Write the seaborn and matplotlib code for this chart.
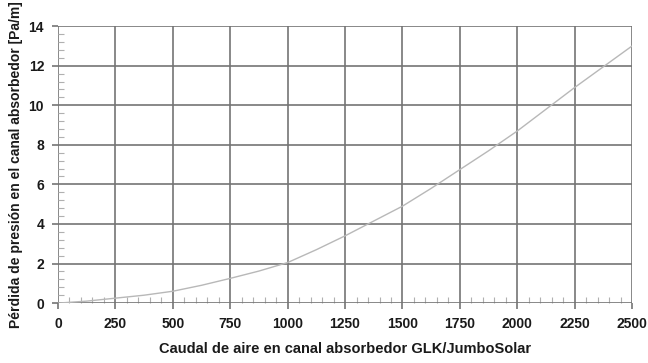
import matplotlib
matplotlib.use("Agg")
import matplotlib.pyplot as plt
from matplotlib.ticker import MultipleLocator
import seaborn as sns
import pandas as pd

# caudal de aire (m3/h) y pérdida de presión (Pa/m)
caudal = [0, 125, 250, 375, 500, 625, 750, 875, 1000, 1125, 1250, 1375, 1500,
          1625, 1750, 1875, 2000, 2125, 2250, 2375, 2500]
perdida = [0.0, 0.1, 0.25, 0.4, 0.6, 0.9, 1.25, 1.62, 2.05, 2.7, 3.4, 4.15, 4.9,
           5.8, 6.75, 7.7, 8.7, 9.8, 10.9, 11.95, 13.0]

x_ticks = [0, 250, 500, 750, 1000, 1250, 1500, 1750, 2000, 2250, 2500]
y_ticks = [0, 2, 4, 6, 8, 10, 12, 14]

df = pd.DataFrame({"caudal": caudal, "perdida": perdida})

sns.set_theme(style="white")
plt.rcParams["font.family"] = ["Liberation Sans", "DejaVu Sans"]

fig = plt.figure(figsize=(6.48, 3.63), dpi=100)
ax = fig.add_axes([0.0895, 0.165, 0.886, 0.763])

sns.lineplot(data=df, x="caudal", y="perdida", ax=ax, color="#b8b8b8", lw=1.0)

ax.set_xlim(0, 2500)
ax.set_ylim(0, 14)
ax.set_xticks(x_ticks)
ax.set_yticks(y_ticks)
ax.xaxis.set_minor_locator(MultipleLocator(50))
ax.yaxis.set_minor_locator(MultipleLocator(0.4))

ax.grid(True, which="major", color="#747474", lw=1.2)
ax.set_axisbelow(True)
for side in ["top", "right", "left", "bottom"]:
    ax.spines[side].set_visible(False)

ax.tick_params(which="both", bottom=True, left=True)
ax.tick_params(which="major", direction="out", length=4, width=1.2,
               color="#747474", pad=6, labelcolor="#1a1a1a")
ax.tick_params(which="minor", direction="in", length=4, color="#b0b0b0", width=0.8)
for lab in ax.get_xticklabels() + ax.get_yticklabels():
    lab.set_fontweight("bold")
    lab.set_fontsize(10)

ax.set_xlabel("Caudal de aire en canal absorbedor GLK/JumboSolar",
              fontsize=10.5, fontweight="bold", labelpad=8, color="#1a1a1a")
ax.set_ylabel("Pérdida de presión en el canal absorbedor [Pa/m]",
              fontsize=10, fontweight="bold", labelpad=4, color="#1a1a1a")

fig.savefig("out.png", dpi=100)
plt.close(fig)
